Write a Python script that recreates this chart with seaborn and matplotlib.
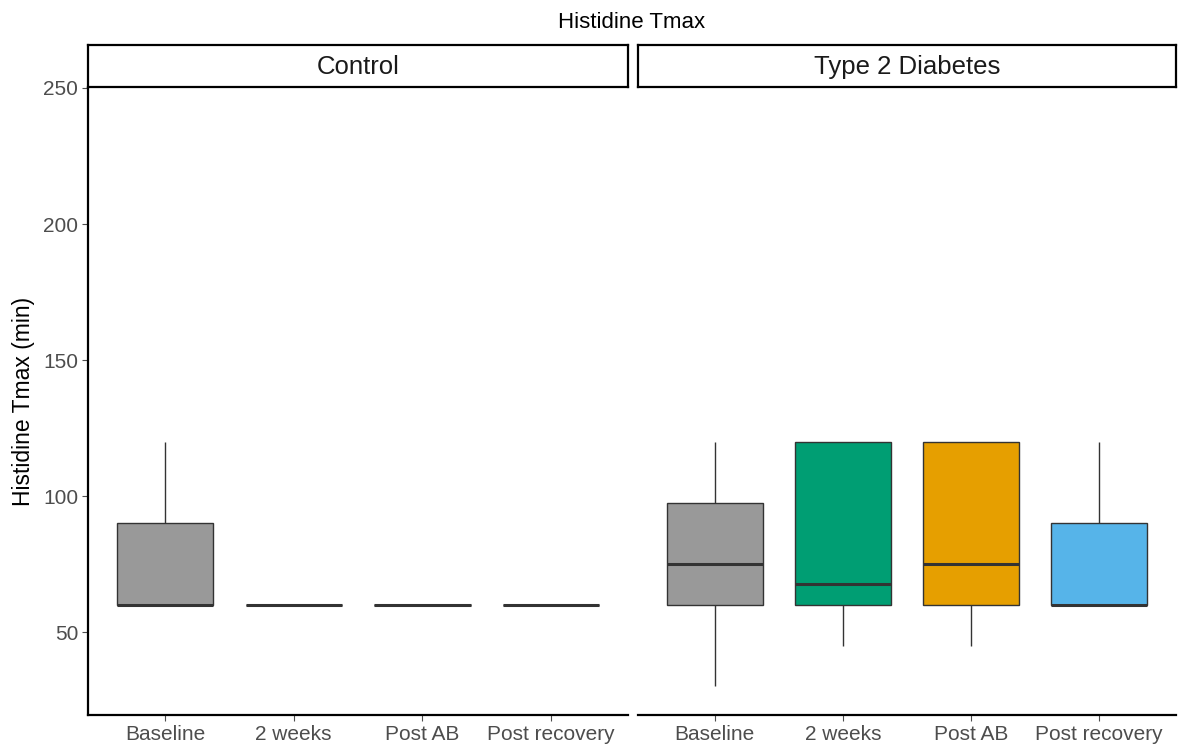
import pandas as pd
import seaborn as sns
import matplotlib.pyplot as plt

# Timepoints and groups
timepoints = ['Baseline', '2 weeks', 'Post AB', 'Post recovery']
groups = ['Control', 'Type 2 Diabetes']
box_colors = ['#999999', '#009E73', '#E69F00', '#56B4E9']

control_tmax = {
    'Baseline': [60, 60, 60, 90, 120],
    '2 weeks': [60, 60, 60, 60, 60],
    'Post AB': [60, 60, 60, 60, 60],
    'Post recovery': [60, 60, 60, 60, 60],
}
t2d_tmax = {
    'Baseline': [30, 60, 60, 75, 90, 105, 120],
    '2 weeks': [45, 60, 60, 60, 75, 120, 120, 120],
    'Post AB': [45, 60, 75, 120, 120],
    'Post recovery': [60, 60, 60, 90, 120],
}

rows = []
for group, values in zip(groups, [control_tmax, t2d_tmax]):
    for tp in timepoints:
        for v in values[tp]:
            rows.append({'group': group, 'timepoint': tp, 'tmax': v})
df = pd.DataFrame(rows)

sns.set_style('white')
plt.rcParams['font.family'] = ['Liberation Sans', 'DejaVu Sans']

fig = plt.figure(figsize=(11.83, 7.54), dpi=100)
W, H = 1183, 754
panels = [(88, 628), (638, 1176)]
top_px, bottom_px = 88, 715
strip_top = 45

for i, (group, (x0, x1)) in enumerate(zip(groups, panels)):
    ax = fig.add_axes([x0 / W, 1 - bottom_px / H, (x1 - x0) / W, (bottom_px - top_px) / H])
    sub = df[df['group'] == group]
    sns.boxplot(data=sub, x='timepoint', y='tmax', hue='timepoint', order=timepoints,
                hue_order=timepoints, palette=box_colors, dodge=False, legend=False,
                width=0.75, whis=1.5, linecolor='#333333', linewidth=1.0,
                showcaps=False,
                medianprops={'linewidth': 2.2, 'color': '#333333'},
                flierprops={'marker': 'o', 'markersize': 4}, saturation=1, ax=ax)
    ax.set_xlim(-0.6, 3.6)
    ax.set_ylim(19.5, 250)
    ax.set_xlabel('')
    ax.set_ylabel('')
    ax.set_yticks([50, 100, 150, 200, 250])
    ax.tick_params(axis='both', colors='#4D4D4D', labelcolor='#4D4D4D', labelsize=15,
                   length=4, width=0.8, direction='out', bottom=True, left=True, pad=3)
    for s in ['top', 'right']:
        ax.spines[s].set_visible(False)
    ax.spines['bottom'].set_color('black')
    ax.spines['bottom'].set_linewidth(1.6)
    if i == 0:
        ax.spines['left'].set_color('black')
        ax.spines['left'].set_linewidth(1.6)
        ax.set_ylabel('Histidine Tmax (min)', fontsize=16.5, color='black', labelpad=6)
    else:
        ax.spines['left'].set_visible(False)
        ax.tick_params(axis='y', left=False, labelleft=False)

    # facet strip
    sax = fig.add_axes([x0 / W, 1 - (top_px - 1) / H, (x1 - x0) / W, (top_px - 1 - strip_top) / H])
    sax.set_xticks([])
    sax.set_yticks([])
    for s in sax.spines.values():
        s.set_visible(True)
        s.set_color('black')
        s.set_linewidth(1.6)
    sax.text(0.5, 0.48, group, ha='center', va='center', fontsize=18.5, color='#1A1A1A',
             transform=sax.transAxes)

fig.text((88 + 1176) / 2 / W, 1 - 22 / H, 'Histidine Tmax', ha='center', va='center',
         fontsize=16, color='black')

plt.savefig('out.png', dpi=100)
